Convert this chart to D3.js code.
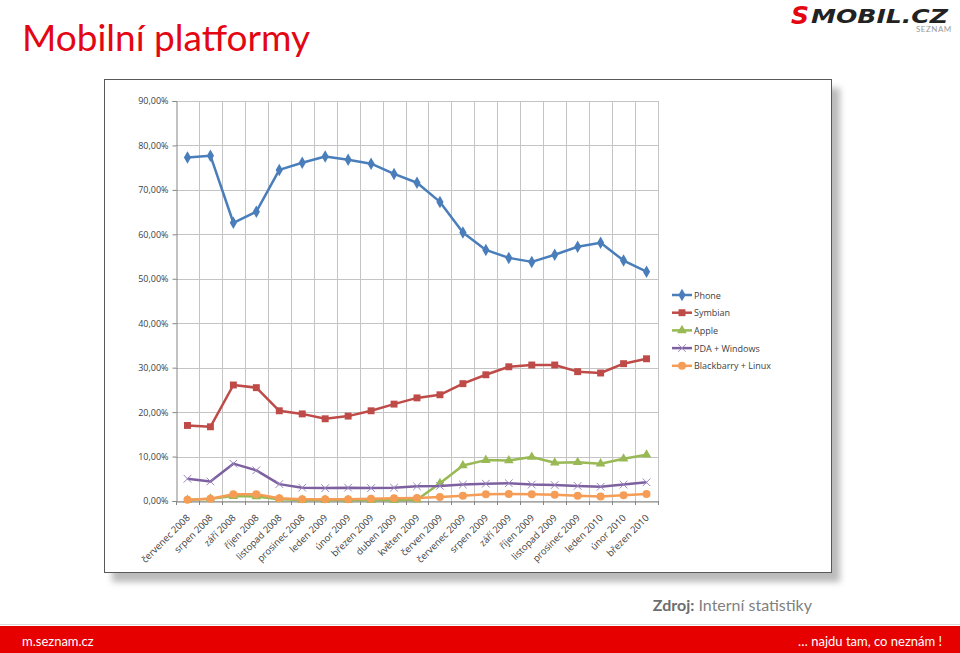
<!DOCTYPE html>
<html>
<head>
<meta charset="utf-8">
<script src="https://cdn.jsdelivr.net/npm/d3@7"></script>
<style>
  body { margin: 0; background: #fff; }
  svg { display: block; font-family: Lato, "Open Sans", sans-serif; }
</style>
</head>
<body>
<div id="chart"></div>
<script>
// months on the x axis
const months = ["červenec 2008", "srpen 2008", "září 2008", "říjen 2008", "listopad 2008",
  "prosinec 2008", "leden 2009", "únor 2009", "březen 2009", "duben 2009", "květen 2009",
  "červen 2009", "červenec 2009", "srpen 2009", "září 2009", "říjen 2009", "listopad 2009",
  "prosinec 2009", "leden 2010", "únor 2010", "březen 2010"];

// share in percent
const phone = [77.3, 77.7, 62.6, 65.1, 74.5, 76.1, 77.5, 76.8, 75.9, 73.6, 71.6,
  67.3, 60.4, 56.5, 54.7, 53.8, 55.4, 57.2, 58.1, 54.1, 51.6];
const symbian = [17.0, 16.7, 26.1, 25.5, 20.3, 19.6, 18.5, 19.1, 20.3, 21.8, 23.2,
  23.9, 26.4, 28.4, 30.2, 30.6, 30.6, 29.1, 28.8, 30.9, 32.0];
const apple = [0.2, 0.5, 1.1, 1.0, 0.4, 0.2, 0.2, 0.2, 0.2, 0.2, 0.3,
  4.0, 8.0, 9.2, 9.1, 9.9, 8.6, 8.7, 8.4, 9.5, 10.4];
const pdaWindows = [5.0, 4.4, 8.4, 6.9, 3.8, 3.0, 2.9, 3.0, 2.9, 3.0, 3.3,
  3.4, 3.7, 3.9, 4.0, 3.7, 3.6, 3.4, 3.2, 3.7, 4.2];
const blackberryLinux = [0.3, 0.5, 1.5, 1.5, 0.6, 0.4, 0.4, 0.4, 0.5, 0.6, 0.7,
  0.9, 1.2, 1.5, 1.6, 1.5, 1.4, 1.2, 1.0, 1.3, 1.6];

const yTicks = [0, 10, 20, 30, 40, 50, 60, 70, 80, 90];

const series = [
  { name: "Phone", values: phone, color: "#4A7EBB", symbol: d3.symbolDiamond, size: 45 },
  { name: "Symbian", values: symbian, color: "#BE4B48", symbol: d3.symbolSquare, size: 48 },
  { name: "Apple", values: apple, color: "#98B954", symbol: d3.symbolTriangle, size: 40 },
  { name: "PDA + Windows", values: pdaWindows, color: "#7D60A0", symbol: d3.symbolX, size: 40 },
  { name: "Blackbarry + Linux", values: blackberryLinux, color: "#F59D56", symbol: d3.symbolCircle, size: 50 }
];

const W = 960, H = 653;
const svg = d3.select("#chart").append("svg").attr("width", W).attr("height", H);

// title + logo
svg.append("text").attr("x", 22).attr("y", 51)
  .attr("font-size", 37).attr("fill", "#e30613")
  .style("font-family", "Lato, 'Open Sans', sans-serif")
  .text("Mobilní platformy");

const logo = svg.append("g").attr("transform", "translate(791,24)");
logo.append("text").attr("x", 0).attr("y", 0)
  .attr("font-size", 25).attr("font-weight", 900).attr("font-style", "italic")
  .attr("fill", "#e30613").style("font-family", "'DejaVu Sans', sans-serif")
  .text("S");
logo.append("text").attr("x", 20).attr("y", -1)
  .attr("font-size", 20).attr("font-weight", 900).attr("font-style", "italic")
  .attr("fill", "#222").style("font-family", "'DejaVu Sans', sans-serif")
  .attr("textLength", 137).attr("lengthAdjust", "spacingAndGlyphs")
  .text("MOBIL.CZ");
logo.append("text").attr("x", 125).attr("y", 8)
  .attr("font-size", 8).attr("fill", "#999").attr("letter-spacing", 0.5)
  .text("SEZNAM");

// chart box with shadow
const defs = svg.append("defs");
defs.append("filter").attr("id", "blur").append("feGaussianBlur").attr("stdDeviation", 3);
svg.append("rect").attr("x", 112).attr("y", 88).attr("width", 728).attr("height", 494)
  .attr("fill", "#bbb").attr("filter", "url(#blur)");
svg.append("rect").attr("x", 104.5).attr("y", 79.5).attr("width", 727).attr("height", 493)
  .attr("fill", "#fff").attr("stroke", "#595959").attr("stroke-width", 1);

// plot area
const plot = { left: 176, right: 658, top: 101, bottom: 501 };

const x = d3.scaleBand().domain(months).range([plot.left, plot.right]);
const y = d3.scaleLinear().domain([0, 90]).range([plot.bottom, plot.top]);

const g = svg.append("g");

// horizontal gridlines
g.append("g")
  .attr("transform", `translate(${plot.left},0)`)
  .call(d3.axisLeft(y).tickValues(yTicks).tickSize(-(plot.right - plot.left)).tickFormat(""))
  .call(a => a.select(".domain").remove())
  .call(a => a.selectAll(".tick line").attr("stroke", "#c4c4c4").attr("shape-rendering", "crispEdges"));

// vertical gridlines at category boundaries
const bounds = months.map(m => x(m)).concat([plot.right]);
g.append("g").selectAll("line").data(bounds.slice(1)).join("line")
  .attr("x1", d => Math.round(d) + 0.5).attr("x2", d => Math.round(d) + 0.5)
  .attr("y1", plot.top).attr("y2", plot.bottom)
  .attr("stroke", "#c4c4c4");

// y axis
g.append("g")
  .attr("transform", `translate(${plot.left + 0.5},0)`)
  .call(d3.axisLeft(y).tickValues(yTicks).tickSize(4).tickPadding(4)
    .tickFormat(d => d3.format(".2f")(d).replace(".", ",") + "%"))
  .call(a => a.select(".domain").attr("stroke", "#868686"))
  .call(a => a.selectAll(".tick line").attr("stroke", "#868686"))
  .call(a => a.selectAll(".tick text").attr("font-size", 9).attr("fill", "#404040")
    .style("font-family", "'Open Sans', sans-serif"));

// x axis
const xAxis = g.append("g")
  .attr("transform", `translate(0,${plot.bottom + 0.5})`)
  .call(d3.axisBottom(x).tickSize(0).tickPadding(0));
xAxis.select(".domain").attr("stroke", "#868686");
xAxis.selectAll(".tick text")
  .attr("font-size", 9.5).attr("fill", "#404040")
  .style("font-family", "'Open Sans', sans-serif")
  .attr("text-anchor", "end")
  .attr("dy", 0).attr("y", 0)
  .attr("transform", "translate(3,17) rotate(-45)");
// boundary tick marks
g.append("g").selectAll("line").data(bounds).join("line")
  .attr("x1", d => Math.round(d) + 0.5).attr("x2", d => Math.round(d) + 0.5)
  .attr("y1", plot.bottom).attr("y2", plot.bottom + 4)
  .attr("stroke", "#868686");

// series lines and markers
const line = d3.line()
  .x((d, i) => x(months[i]) + x.bandwidth() / 2)
  .y(d => y(d));

series.forEach(s => {
  const sg = g.append("g");
  sg.append("path").attr("d", line(s.values))
    .attr("fill", "none").attr("stroke", s.color).attr("stroke-width", 2.5)
    .attr("stroke-linejoin", "round");
  sg.selectAll("path.mk").data(s.values).join("path").attr("class", "mk")
    .attr("d", d3.symbol().type(s.symbol).size(s.size))
    .attr("transform", (d, i) => `translate(${x(months[i]) + x.bandwidth() / 2},${y(d)})`)
    .attr("fill", s.symbol === d3.symbolX ? "none" : s.color)
    .attr("stroke", s.symbol === d3.symbolX ? "#9a86bd" : "none")
    .attr("stroke-width", 1);
});

// legend
const legend = svg.append("g").attr("transform", "translate(672,295)");
series.forEach((s, i) => {
  const row = legend.append("g").attr("transform", `translate(0,${i * 17.7})`);
  row.append("line").attr("x1", 0).attr("x2", 20).attr("stroke", s.color).attr("stroke-width", 2.5);
  row.append("path").attr("d", d3.symbol().type(s.symbol).size(s.size))
    .attr("transform", "translate(10,0)")
    .attr("fill", s.symbol === d3.symbolX ? "none" : s.color)
    .attr("stroke", s.symbol === d3.symbolX ? "#9a86bd" : "none");
  row.append("text").attr("x", 22).attr("y", 3.5)
    .attr("font-size", 9).attr("fill", "#404040")
    .style("font-family", "'Open Sans', sans-serif")
    .text(s.name);
});

// source
const src = svg.append("text").attr("x", 812).attr("y", 611).attr("text-anchor", "end")
  .attr("font-size", 16).style("font-family", "Lato, 'Open Sans', sans-serif");
src.append("tspan").attr("font-weight", 700).attr("fill", "#6d6d6d").text("Zdroj:");
src.append("tspan").attr("fill", "#7f7f7f").text(" Interní statistiky");

// footer band
svg.append("line").attr("x1", 0).attr("x2", W).attr("y1", 624.5).attr("y2", 624.5)
  .attr("stroke", "#d9d9d9");
svg.append("rect").attr("x", 0).attr("y", 626).attr("width", W).attr("height", H - 626)
  .attr("fill", "#e60000");
svg.append("text").attr("x", 22).attr("y", 646).attr("font-size", 13).attr("fill", "#fff")
  .text("m.seznam.cz");
svg.append("text").attr("x", 942).attr("y", 646).attr("font-size", 13).attr("fill", "#fff")
  .attr("text-anchor", "end").text("… najdu tam, co neznám !");
</script>
</body>
</html>
